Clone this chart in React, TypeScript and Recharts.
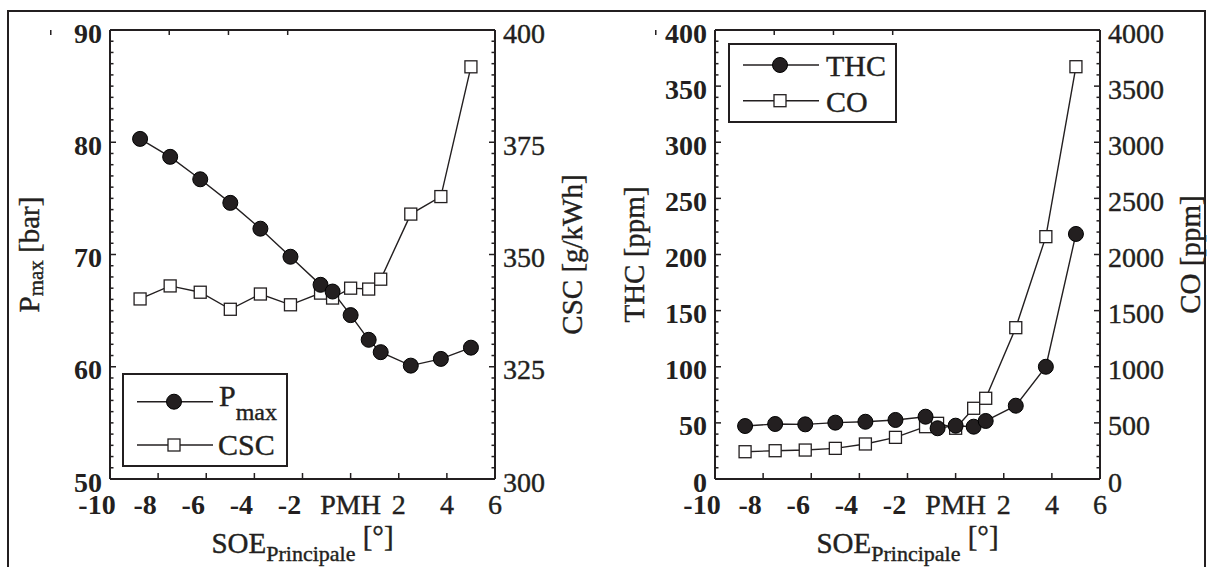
import { ComposedChart, Line, XAxis, YAxis, Legend } from "recharts";

// SOE (angle of main injection, degrees; 0 = PMH)
const soe = [-8.75, -7.5, -6.25, -5, -3.75, -2.5, -1.25, -0.75, 0, 0.75, 1.25, 2.5, 3.75, 5];
// left panel
const pmax = [80.3, 78.7, 76.7, 74.6, 72.3, 69.8, 67.3, 66.7, 64.6, 62.4, 61.3, 60.1, 60.7, 61.7];
const csc = [340.1, 343.0, 341.6, 337.8, 341.2, 338.8, 341.4, 340.3, 342.5, 342.3, 344.5, 359.0, 362.9, 391.8];
// right panel
const thc = [47.2, 49.0, 48.7, 50.2, 51.0, 52.6, 55.5, 45.2, 47.5, 46.6, 51.7, 65.3, 100, 218.3];
const co = [243, 252, 258, 273, 312, 371, 466, 496, 452, 630, 719, 1348, 2159, 3673];

const soeTicks = [-10, -8, -6, -4, -2, 0, 2, 4, 6];
const pmaxTicks = [50, 60, 70, 80, 90];
const cscTicks = [300, 325, 350, 375, 400];
const thcTicks = [0, 50, 100, 150, 200, 250, 300, 350, 400];
const coTicks = [0, 500, 1000, 1500, 2000, 2500, 3000, 3500, 4000];

const INK = "#231f20";
const FONT = '"Liberation Serif", "Times New Roman", serif';
// regular text in the original is rendered a little heavy
const heavy = { stroke: INK, strokeWidth: 0.4 };

const leftData = soe.map((s, i) => ({ soe: s, pmax: pmax[i], csc: csc[i] }));
const rightData = soe.map((s, i) => ({ soe: s, thc: thc[i], co: co[i] }));

const withMinor = (major: number[], step: number) => {
  const lo = major[0];
  const n = Math.round((major[major.length - 1] - lo) / step);
  const out: number[] = [];
  for (let i = 0; i <= n; i++) out.push(+(lo + i * step).toFixed(4));
  return out;
};

const renderYTick = (p: any, side: "left" | "right", majors: number[], bold: boolean) => {
  const v = p.payload.value as number;
  const major = majors.includes(v);
  const dir = side === "left" ? 1 : -1;
  return (
    <g>
      <line x1={p.x} x2={p.x + dir * (major ? 6 : 3.5)} y1={p.y} y2={p.y} stroke={INK} strokeWidth={1.5} />
      {major && (
        <text
          x={p.x - dir * 8}
          y={p.y}
          dy="0.45em"
          textAnchor={side === "left" ? "end" : "start"}
          fontFamily={FONT}
          fontSize={28}
          fontWeight={bold ? 700 : 400}
          fill={INK}
          {...(bold ? {} : heavy)}
        >
          {v}
        </text>
      )}
    </g>
  );
};

const renderXTick = (p: any) => {
  const v = p.payload.value as number;
  const neg = v < 0;
  return (
    <g>
      <line x1={p.x} x2={p.x} y1={p.y} y2={p.y - 6} stroke={INK} strokeWidth={1.5} />
      <text
        x={p.x + (neg ? -13 : 0)}
        y={p.y + 35}
        textAnchor="middle"
        fontFamily={FONT}
        fontSize={28}
        fontWeight={neg ? 700 : 400}
        fill={INK}
        {...(neg ? {} : heavy)}
      >
        {v === 0 ? "PMH" : v}
      </text>
    </g>
  );
};

const renderTopTick = (p: any) => (
  <line x1={p.x} x2={p.x} y1={p.y} y2={p.y + 5} stroke={INK} strokeWidth={1.5} />
);

const YTitle = (props: any) => {
  const vb = props.viewBox || {};
  const cx = (vb.x ?? 0) + props.bx;
  const cy = (vb.y ?? 30) + (vb.height ?? 449) / 2;
  return (
    <text
      x={cx}
      y={cy}
      transform={`rotate(-90 ${cx} ${cy})`}
      textAnchor="middle"
      fontFamily={FONT}
      fontSize={29}
      fill={INK}
      {...heavy}
    >
      {props.main}
      {props.sub && (
        <tspan fontSize={21} dy={4}>
          {props.sub}
        </tspan>
      )}
      <tspan dy={props.sub ? -4 : 0}> {props.unit}</tspan>
    </text>
  );
};

const XTitle = (props: any) => {
  const vb = props.viewBox || {};
  const cx = (vb.x ?? 110) + (vb.width ?? 385) / 2;
  const by = (vb.y ?? 479) + 74;
  return (
    <text x={cx} y={by} textAnchor="middle" fontFamily={FONT} fontSize={29} fill={INK} {...heavy}>
      SOE
      <tspan fontSize={22} dy={8}>
        Principale
      </tspan>
      <tspan dy={-15}> [°]</tspan>
    </text>
  );
};

const Marker = ({ kind, cx, cy }: { kind: string; cx: number; cy: number }) =>
  kind === "circle" ? (
    <circle cx={cx} cy={cy} r={7.5} fill={INK} stroke="#000" strokeWidth={1} />
  ) : (
    <rect x={cx - 6} y={cy - 6} width={12} height={12} fill="#fff" stroke={INK} strokeWidth={1.3} />
  );

const squareDot = (p: any) => (
  <rect
    key={`sq-${p.index}`}
    x={p.cx - 6}
    y={p.cy - 6}
    width={12}
    height={12}
    fill="#fff"
    stroke={INK}
    strokeWidth={1.3}
  />
);
const circleDot = { r: 7.5, fill: INK, stroke: "#000", strokeWidth: 1 };

type LegendRow = { kind: string; label: string; sub?: string; lineY: number; textY: number; textX: number };

const LegendBox = ({ w, h, rows }: { w: number; h: number; rows: LegendRow[] }) => (
  <svg width={w} height={h} style={{ display: "block", background: "#fff" }}>
    <rect x={1} y={1} width={w - 2} height={h - 2} fill="#fff" stroke={INK} strokeWidth={2} />
    {rows.map((r) => (
      <g key={r.label}>
        <line x1={15} x2={91} y1={r.lineY} y2={r.lineY} stroke={INK} strokeWidth={1.4} />
        <Marker kind={r.kind} cx={52} cy={r.lineY} />
        <text x={r.textX} y={r.textY} fontFamily={FONT} fontSize={30} fill={INK} {...heavy}>
          {r.label}
          {r.sub && (
            <tspan fontSize={24} dy={14}>
              {r.sub}
            </tspan>
          )}
        </text>
      </g>
    ))}
  </svg>
);

const leftLegend: LegendRow[] = [
  { kind: "circle", label: "P", sub: "max", lineY: 28.7, textY: 33, textX: 97 },
  { kind: "square", label: "CSC", lineY: 72, textY: 82, textX: 96 },
];
const rightLegend: LegendRow[] = [
  { kind: "circle", label: "THC", lineY: 22, textY: 33, textX: 98 },
  { kind: "square", label: "CO", lineY: 57.7, textY: 69, textX: 98 },
];

const W = 605;
const H = 567;
const axisLine = { stroke: INK, strokeWidth: 2 };

const Panel = (props: {
  data: any[];
  leftKey: string;
  rightKey: string;
  leftTicks: number[];
  rightTicks: number[];
  leftStep: number;
  rightStep: number;
  leftTitle: any;
  rightTitle: any;
  legendRows: LegendRow[];
  legendBox: { left: number; top: number; width: number; height: number };
}) => {
  const lt = props.leftTicks;
  const rt = props.rightTicks;
  return (
    <ComposedChart width={W} height={H} data={props.data} margin={{ top: 0, right: 0, bottom: 0, left: 0 }}>
      <XAxis
        dataKey="soe"
        type="number"
        domain={[-10, 6]}
        ticks={soeTicks}
        interval={0}
        height={88}
        tickSize={0}
        tickMargin={0}
        tickLine={false}
        axisLine={axisLine}
        tick={renderXTick}
        label={<XTitle />}
      />
      <XAxis
        xAxisId="top"
        orientation="top"
        type="number"
        domain={[-10, 6]}
        allowDataOverflow
        ticks={soeTicks}
        interval={0}
        height={30}
        tickSize={0}
        tickMargin={0}
        tickLine={false}
        axisLine={axisLine}
        tick={renderTopTick}
      />
      <YAxis
        yAxisId="l"
        type="number"
        domain={[lt[0], lt[lt.length - 1]]}
        ticks={withMinor(lt, props.leftStep)}
        interval={0}
        width={110}
        tickSize={0}
        tickMargin={0}
        tickLine={false}
        axisLine={axisLine}
        tick={(p: any) => renderYTick(p, "left", lt, true)}
        label={props.leftTitle}
      />
      <YAxis
        yAxisId="r"
        orientation="right"
        type="number"
        domain={[rt[0], rt[rt.length - 1]]}
        ticks={withMinor(rt, props.rightStep)}
        interval={0}
        width={110}
        tickSize={0}
        tickMargin={0}
        tickLine={false}
        axisLine={axisLine}
        tick={(p: any) => renderYTick(p, "right", rt, false)}
        label={props.rightTitle}
      />
      <Legend
        layout="vertical"
        align="center"
        verticalAlign="middle"
        wrapperStyle={{ ...props.legendBox }}
        content={() => (
          <LegendBox w={props.legendBox.width} h={props.legendBox.height} rows={props.legendRows} />
        )}
      />
      <Line
        yAxisId="r"
        dataKey={props.rightKey}
        stroke={INK}
        strokeWidth={1.4}
        dot={squareDot}
        activeDot={false}
        isAnimationActive={false}
      />
      <Line
        yAxisId="l"
        dataKey={props.leftKey}
        stroke={INK}
        strokeWidth={1.4}
        dot={circleDot}
        activeDot={false}
        isAnimationActive={false}
      />
    </ComposedChart>
  );
};

export default function App() {
  return (
    <div style={{ position: "absolute", left: 0, top: 0, width: 1210, height: 567, overflow: "hidden", background: "#fff" }}>
      <div
        style={{
          position: "absolute",
          left: 7,
          top: 10,
          width: 1199,
          height: 640,
          border: `2px solid ${INK}`,
          boxSizing: "border-box",
        }}
      />
      <div style={{ position: "absolute", left: 0, top: 0 }}>
        <Panel
          data={leftData}
          leftKey="pmax"
          rightKey="csc"
          leftTicks={pmaxTicks}
          rightTicks={cscTicks}
          leftStep={1}
          rightStep={2.5}
          leftTitle={<YTitle main="P" sub="max" unit="[bar]" bx={39} />}
          rightTitle={<YTitle main="CSC" unit="[g/kWh]" bx={87} />}
          legendRows={leftLegend}
          legendBox={{ left: 122, top: 373, width: 166, height: 94 }}
        />
      </div>
      <div style={{ position: "absolute", left: W, top: 0 }}>
        <Panel
          data={rightData}
          leftKey="thc"
          rightKey="co"
          leftTicks={thcTicks}
          rightTicks={coTicks}
          leftStep={10}
          rightStep={100}
          leftTitle={<YTitle main="THC" unit="[ppm]" bx={39} />}
          rightTitle={<YTitle main="CO" unit="[ppm]" bx={100} />}
          legendRows={rightLegend}
          legendBox={{ left: 123, top: 43, width: 169, height: 80 }}
        />
      </div>
    </div>
  );
}
